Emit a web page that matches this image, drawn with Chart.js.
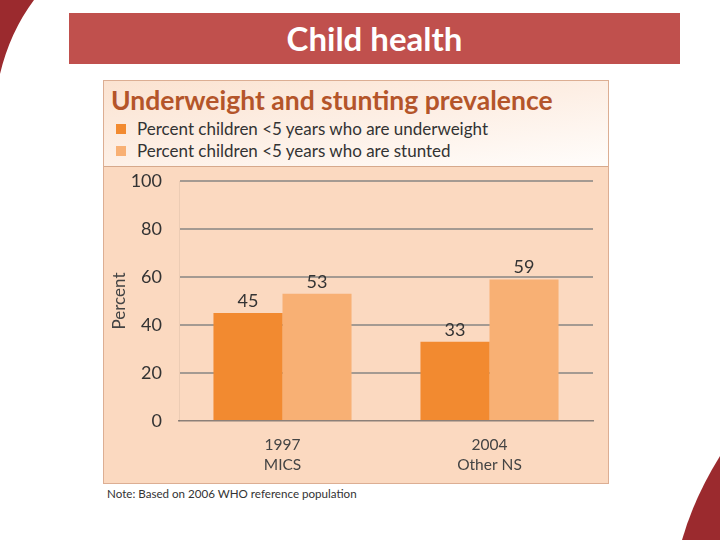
<!DOCTYPE html>
<html>
<head>
<meta charset="utf-8">
<script src="https://cdn.jsdelivr.net/npm/chart.js@4.4.1/dist/chart.umd.min.js"></script>
<style>
  html, body { margin: 0; padding: 0; }
  body { width: 720px; height: 540px; position: relative; overflow: hidden; background: #fff; font-family: Lato, "Open Sans", sans-serif; }
  #deco { position: absolute; left: 0; top: 0; }
  #banner { position: absolute; left: 69px; top: 13px; width: 611px; height: 51px; background: #c0504d;
            color: #fff; font-weight: bold; font-size: 33px; text-align: center; line-height: 51px; }
  #box { position: absolute; left: 103px; top: 80px; width: 504px; height: 402px; border: 1px solid #dcae93; background: #fbd9c0; }
  #head { height: 85px; border-bottom: 1px solid #d6a98c;
          background: linear-gradient(172deg, #fbe3d1 0%, #fdefe5 50%, #fffdfb 100%); position: relative; }
  #head h2 { margin: 0; position: absolute; left: 7px; top: 3px; font-size: 26.5px; font-weight: bold; color: #b4552a; }
  .leg { position: absolute; left: 12px; font-size: 17px; color: #333; }
  .leg span { display: inline-block; width: 10px; height: 10px; margin-right: 11px; vertical-align: 1px; }
  #plot { position: relative; width: 504px; height: 317px; }
  #note { position: absolute; left: 107px; top: 487px; font-size: 11.6px; color: #333; }
</style>
</head>
<body>
<svg id="deco" width="720" height="540">
  <path d="M0,0 L34,0 Q10,32 0,74 Z" fill="#9b2a2e"/>
  <path d="M720,456 Q694,498 682,540 L720,540 Z" fill="#9b2a2e"/>
</svg>
<div id="banner">Child health</div>
<div id="box">
  <div id="head">
    <h2 id="chartTitle"></h2>
    <div class="leg" id="leg0" style="top:37px"></div>
    <div class="leg" id="leg1" style="top:59px"></div>
  </div>
  <div id="plot"><canvas id="chart"></canvas></div>
</div>
<div id="note">Note: Based on 2006 WHO reference population</div>
<script>
const chartTitle = 'Underweight and stunting prevalence';
const categories = [['1997', 'MICS'], ['2004', 'Other NS']];
const seriesNames = ['Percent children <5 years who are underweight', 'Percent children <5 years who are stunted'];
const underweight = [45, 33];
const stunted = [53, 59];
const yTicks = [0, 20, 40, 60, 80, 100];
const colors = ['#f28a30', '#f8b074'];

document.getElementById('chartTitle').textContent = chartTitle;
seriesNames.forEach((name, i) => {
  const el = document.getElementById('leg' + i);
  const sw = document.createElement('span');
  sw.style.background = colors[i];
  el.appendChild(sw);
  el.appendChild(document.createTextNode(name));
});

const valueLabels = {
  id: 'valueLabels',
  afterDatasetsDraw(chart) {
    const ctx = chart.ctx;
    ctx.save();
    ctx.font = '18px Lato, "Open Sans", sans-serif';
    ctx.fillStyle = '#333';
    ctx.textAlign = 'center';
    ctx.textBaseline = 'bottom';
    chart.data.datasets.forEach((ds, i) => {
      chart.getDatasetMeta(i).data.forEach((bar, j) => {
        ctx.fillText(ds.data[j], bar.x, bar.y - 3);
      });
    });
    ctx.restore();
  }
};

new Chart(document.getElementById('chart'), {
  type: 'bar',
  data: {
    labels: categories,
    datasets: [
      { label: seriesNames[0], data: underweight, backgroundColor: colors[0], categoryPercentage: 0.667, barPercentage: 1.0 },
      { label: seriesNames[1], data: stunted, backgroundColor: colors[1], categoryPercentage: 0.667, barPercentage: 1.0 }
    ]
  },
  options: {
    responsive: true,
    maintainAspectRatio: false,
    animation: false,
    layout: { padding: { top: 14, right: 15, left: 0, bottom: 0 } },
    plugins: { legend: { display: false }, tooltip: { enabled: false } },
    scales: {
      x: {
        grid: { display: false, drawTicks: false },
        border: { color: '#8c8078', width: 1.5 },
        ticks: { color: '#444', font: { family: 'Lato, "Open Sans", sans-serif', size: 15.5, lineHeight: 1.3 }, padding: 14 },
        afterFit(scale) { scale.height = 63; }
      },
      y: {
        min: 0,
        max: 100,
        afterBuildTicks(scale) { scale.ticks = yTicks.map(v => ({ value: v })); },
        grid: { color: ctx => ctx.tick.value === 0 ? 'rgba(0,0,0,0)' : '#a49a92', lineWidth: 2, drawTicks: false },
        border: { color: 'rgba(0,0,0,0.06)' },
        ticks: { color: '#333', font: { family: 'Lato, "Open Sans", sans-serif', size: 18 }, padding: 17 },
        title: { display: true, text: 'Percent', color: '#444', font: { family: 'Lato, "Open Sans", sans-serif', size: 17 }, padding: { top: 5, bottom: 0 } },
        afterFit(scale) {
          scale.width = 75;
          scale.paddingTop = 0;
          scale.paddingBottom = 0;
        }
      }
    }
  },
  plugins: [valueLabels]
});
</script>
</body>
</html>
